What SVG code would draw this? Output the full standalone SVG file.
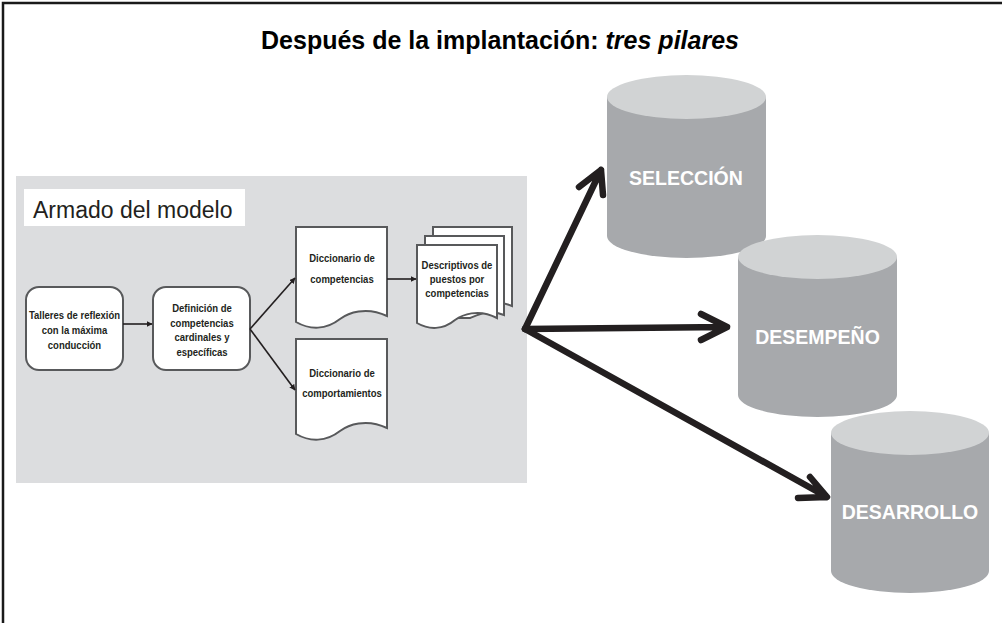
<svg xmlns="http://www.w3.org/2000/svg" width="1002" height="623" viewBox="0 0 1002 623">
<defs>
<style>
.frame{stroke:#1a1a1a;stroke-width:2.5;fill:none}
.box{fill:#ffffff;stroke:#58595b;stroke-width:2}
.doc{fill:#ffffff;stroke:#58595b;stroke-width:2}
.t{font-family:"Liberation Sans Narrow","Liberation Sans",Arial,sans-serif;font-weight:bold;font-size:11.2px;fill:#231f20;text-anchor:middle}
.thin{stroke:#231f20;stroke-width:1.6;fill:none}
.big{stroke:#231f20;stroke-width:6.5;fill:none;stroke-linecap:round;stroke-linejoin:round}
.cyl{fill:#a7a9ac}
.cyltop{fill:#d1d3d4}
.ct{font-family:"Liberation Sans",Arial,sans-serif;font-weight:bold;font-size:19.5px;fill:#ffffff;text-anchor:middle}
</style>
<marker id="ah" viewBox="0 0 10 10" refX="9" refY="5" markerWidth="6" markerHeight="6" orient="auto" markerUnits="userSpaceOnUse">
<path d="M0,0 L10,5 L0,10 Z" fill="#231f20"/>
</marker>
</defs>
<rect x="0" y="0" width="1002" height="623" fill="#ffffff"/>
<path class="frame" d="M3,623 V3 H1002"/>
<text x="500" y="49" font-family="Liberation Sans,Arial,sans-serif" font-weight="bold" font-size="25" text-anchor="middle" fill="#000">Después de la implantación: <tspan font-style="italic">tres pilares</tspan></text>

<g id="panel">
<rect x="16" y="176" width="511" height="307" fill="#dcdddf"/>
<rect x="24" y="189" width="221" height="37" fill="#ffffff"/>
<text x="33" y="218" font-family="Liberation Sans,Arial,sans-serif" font-size="23" fill="#231f20">Armado del modelo</text>
</g>

<g id="talleres">
<rect class="box" x="26" y="287" width="97" height="83" rx="13"/>
<g transform="translate(74.5,0) scale(0.85,1)">
<text class="t" x="0" y="319">Talleres de reflexión</text>
<text class="t" x="0" y="334">con la máxima</text>
<text class="t" x="0" y="349">conducción</text>
</g>
</g>

<g id="definicion">
<rect class="box" x="153" y="287" width="97" height="83" rx="13"/>
<g transform="translate(202,0) scale(0.85,1)">
<text class="t" x="0" y="312">Definición de</text>
<text class="t" x="0" y="327">competencias</text>
<text class="t" x="0" y="341">cardinales y</text>
<text class="t" x="0" y="356">específicas</text>
</g>
</g>

<g id="dicc-competencias">
<path class="doc" d="M296,227 H387 V316 C366,306 348,313 340,319 C326,330 310,330 296,322 Z"/>
<g transform="translate(342,0) scale(0.85,1)">
<text class="t" x="0" y="262">Diccionario de</text>
<text class="t" x="0" y="283">competencias</text>
</g>
</g>

<g id="dicc-comportamientos">
<path class="doc" d="M296,339 H387 V428 C366,418 348,425 340,431 C326,442 310,442 296,434 Z"/>
<g transform="translate(342,0) scale(0.85,1)">
<text class="t" x="0" y="377">Diccionario de</text>
<text class="t" x="0" y="397">comportamientos</text>
</g>
</g>

<g id="descriptivos">
<path class="doc" d="M433,227 H512 V306 C499,300 490,305 480,310 H433 Z"/>
<path class="doc" d="M425,236 H504 V315 C490,309 480,314 470,318 H425 Z"/>
<path class="doc" d="M417,245 H497 V318 C478,308 462,315 455,320 C443,330 429,330 417,323 Z"/>
<g transform="translate(457,0) scale(0.85,1)">
<text class="t" x="0" y="269">Descriptivos de</text>
<text class="t" x="0" y="283">puestos por</text>
<text class="t" x="0" y="297">competencias</text>
</g>
</g>

<g id="seleccion">
<path class="cyl" d="M607,97 V236 A79.5,22 0 0 0 766,236 V97 Z"/>
<ellipse class="cyltop" cx="686.5" cy="97" rx="79.5" ry="22"/>
<text class="ct" x="686" y="185">SELECCIÓN</text>
</g>

<g id="desempeno">
<path class="cyl" d="M738,257 V395 A79.5,22 0 0 0 897,395 V257 Z"/>
<ellipse class="cyltop" cx="817.5" cy="257" rx="79.5" ry="22"/>
<text class="ct" x="817.5" y="344">DESEMPEÑO</text>
</g>

<g id="desarrollo">
<path class="cyl" d="M831,433 V571 A79,22 0 0 0 989,571 V433 Z"/>
<ellipse class="cyltop" cx="910" cy="433" rx="79" ry="22"/>
<text class="ct" x="910" y="519">DESARROLLO</text>
</g>

<g id="connectors">
<line class="thin" x1="123" y1="324" x2="152" y2="324" marker-end="url(#ah)"/>
<line class="thin" x1="250" y1="329" x2="295" y2="278" marker-end="url(#ah)"/>
<line class="thin" x1="250" y1="329" x2="295" y2="390" marker-end="url(#ah)"/>
<line class="thin" x1="387" y1="279" x2="416" y2="279" marker-end="url(#ah)"/>
<path class="big" d="M525,329 L601,170 M579,187 L601,170 L603,195"/>
<path class="big" d="M525,329 L727,327 M701,314 L727,327 L701,340"/>
<path class="big" d="M525,329 L827,497 M810,477 L827,497 L798,498"/>
</g>
</svg>
